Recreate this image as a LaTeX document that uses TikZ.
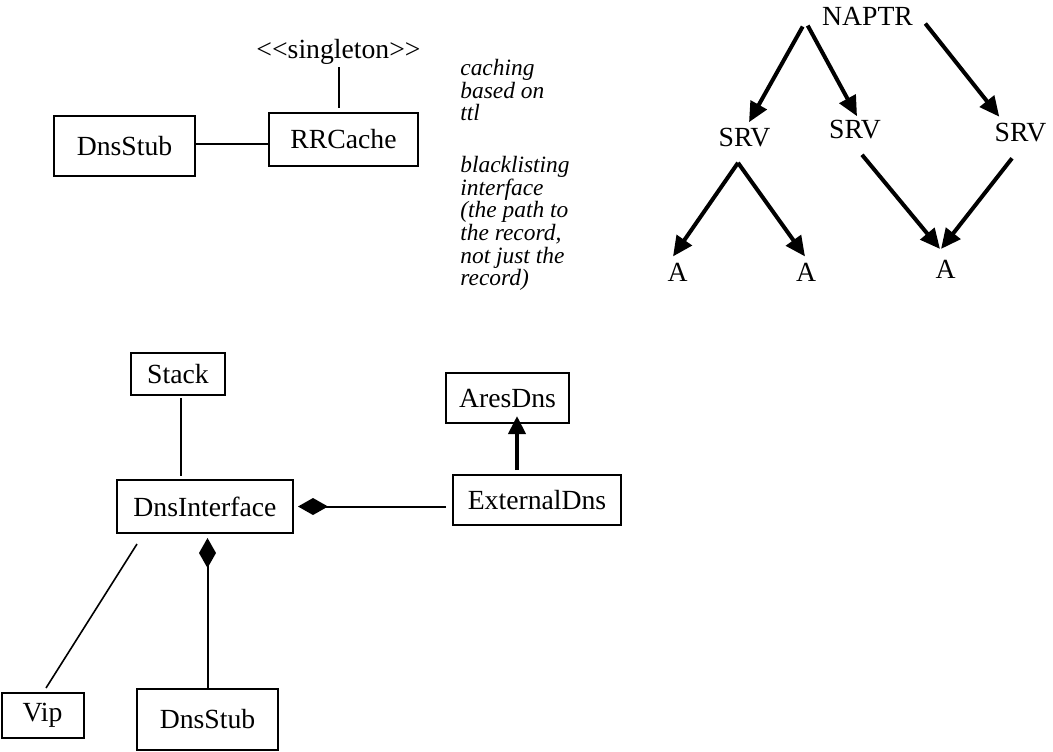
\documentclass[tikz,border=0pt]{standalone}
\usepackage{fontspec}
\setmainfont{Liberation Serif}
\usetikzlibrary{arrows.meta}

\begin{document}
\begin{tikzpicture}[x=0.5pt, y=-0.5pt, font=\fontsize{13.85pt}{16pt}\selectfont,
 cls/.style={draw, line width=1pt, inner sep=0pt},
 lbl/.style={inner sep=0pt},
 lnk/.style={line width=1pt},
 comp/.style={lnk, -{Diamond[length=15pt,width=8.5pt]}},
 tree/.style={line width=2pt, -{Triangle[length=10pt,width=9pt]}},
 note/.style={lbl, anchor=north west, align=left, font=\fontsize{11.7pt}{11.3pt}\selectfont\itshape}]
\useasboundingbox (0,0) rectangle (1053,751);
% cache
\node[cls, minimum width=70.5pt, minimum height=30pt] (stubtop) at (124.5,146) {DnsStub};
\node[cls, minimum width=74.5pt, minimum height=26.5pt] (rrcache) at (343.5,139.5) {RRCache};
\node[lbl] (singleton) at (338.5,52) {<\kern0pt<singleton>\kern0pt>};
\draw[lnk] ([yshift=1pt]stubtop.east) -- ([yshift=1pt]stubtop.east -| rrcache.west);
\draw[lnk] ([yshift=-1pt]singleton.south) -- ([yshift=2pt]singleton.south |- rrcache.north);
% notes
\node[note] (ttlnote) at (460,59) {caching\\based on\\ttl};
\node[note] (blacknote) at (460,156) {blacklisting\\interface\\(the path to\\the record,\\not just the\\record)};
% record tree
\node[lbl] (naptr) at (867.5,16) {NAPTR};
\node[lbl] (srv1) at (744.5,138) {SRV};
\node[lbl] (srv2) at (855,130) {SRV};
\node[lbl] (srv3) at (1020.5,132.5) {SRV};
\node[lbl] (a1) at (677.5,272) {A};
\node[lbl] (a2) at (806,272) {A};
\node[lbl] (a3) at (945.5,269.5) {A};
\draw[tree] ([xshift=-9.5pt,yshift=-0.5pt]naptr.south west) -- ([xshift=2.25pt,yshift=3pt]srv1.north);
\draw[tree] ([xshift=-7pt]naptr.south west) -- ([xshift=1pt,yshift=2pt]srv2.north);
\draw[tree] ([xshift=6pt,yshift=1pt]naptr.south east) -- ([xshift=2.5pt,yshift=3pt]srv3.north west);
\draw[tree] ([xshift=-3.25pt,yshift=-7.5pt]srv1.south) -- ([xshift=-2.25pt,yshift=3pt]a1.north);
\draw[tree] ([xshift=-3.25pt,yshift=-7.5pt]srv1.south) -- ([xshift=-0.5pt,yshift=3pt]a2.north);
\draw[tree] ([xshift=3.5pt,yshift=-7.5pt]srv2.south) -- ([xshift=-2.75pt,yshift=5.5pt]a3.north);
\draw[tree] ([xshift=-4.25pt,yshift=-8pt]srv3.south) -- ([xshift=-2.25pt,yshift=5.5pt]a3.north);
% dns interface
\node[cls, minimum width=47pt, minimum height=21pt] (stack) at (178,374) {Stack};
\node[cls, minimum width=88pt, minimum height=26.5pt] (dnsif) at (205,506.5) {DnsInterface};
\node[cls, minimum width=61.5pt, minimum height=25pt] (aresdns) at (507.5,398) {AresDns};
\node[cls, minimum width=84pt, minimum height=25pt] (extdns) at (537,500) {ExternalDns};
\node[cls, minimum width=41pt, minimum height=22.5pt] (vip) at (42.5,715.5) {Vip};
\node[cls, minimum width=70.5pt, minimum height=30.5pt] (stubbot) at (207.5,719.5) {DnsStub};
\draw[lnk] ([xshift=1.5pt,yshift=-1pt]stack.south) -- ([xshift=1.5pt,yshift=1.5pt]stack.south |- dnsif.north);
\draw[comp, shorten <=3pt, shorten >=2pt] (dnsif.east -| extdns.west) -- (dnsif.east);
\draw[comp, shorten >=2pt] (stubbot.north) -- (stubbot.north |- dnsif.south);
\draw[lnk, line width=0.8pt] ([xshift=-34pt,yshift=-5pt]dnsif.south) -- ([xshift=1.75pt,yshift=2pt]vip.north);
\draw[line width=2pt, -{Triangle[length=9pt,width=8.5pt]}] ([xshift=-10pt,yshift=2pt]extdns.north) -- ([xshift=-10pt,yshift=4pt]extdns.north |- aresdns.south);
\end{tikzpicture}
\end{document}
